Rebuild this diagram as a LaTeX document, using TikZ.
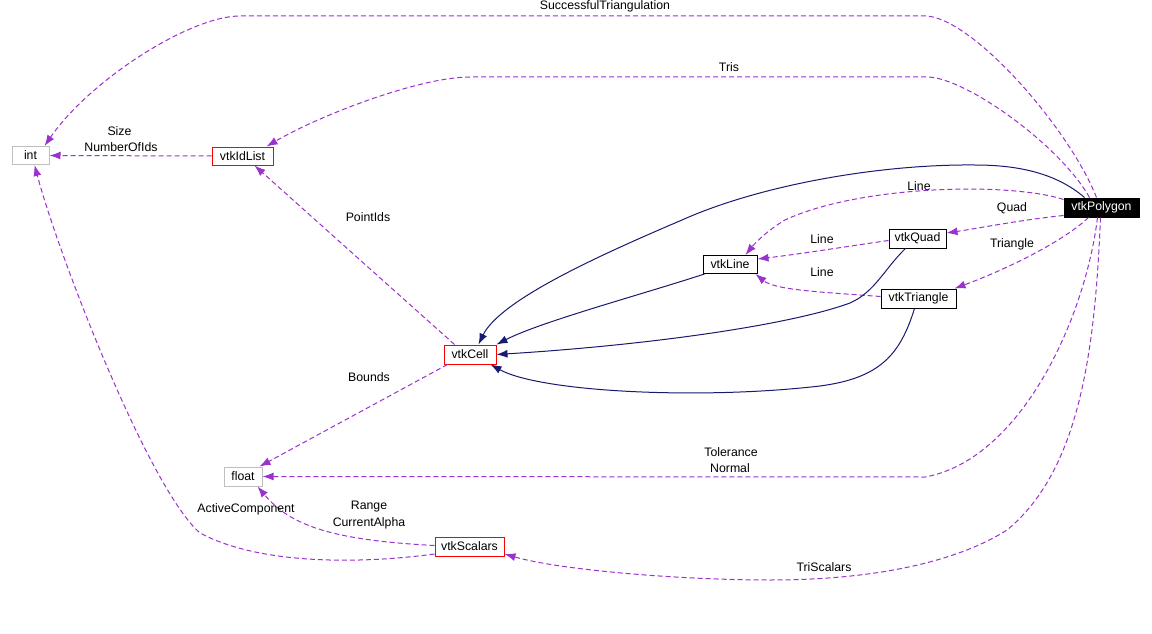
\documentclass[tikz,border=0pt]{standalone}
\usepackage{fontspec}
\setmainfont{Liberation Sans}
\usetikzlibrary{arrows.meta}
\definecolor{usecol}{HTML}{9A32CD}
\definecolor{inhcol}{HTML}{191970}
\definecolor{boxgray}{HTML}{BFBFBF}
\tikzset{
  txt/.style={font=\fontsize{12.3}{14}\selectfont},
  cls/.style={txt, draw, line width=1pt, inner sep=0pt, minimum height=19pt, anchor=center},
  extcls/.style={cls, draw=boxgray},
  doccls/.style={cls, draw=red},
  plaincls/.style={cls, draw=black},
  maincls/.style={cls, draw=black, fill=black, text=white},
  use/.style={draw=usecol, line width=1pt, dash pattern=on 5pt off 3pt, -{Latex[length=11pt,width=8pt]}},
  inh/.style={draw=inhcol, line width=1pt, -{Latex[length=11pt,width=8pt]}},
  lbl/.style={txt, inner sep=0pt, anchor=center}
}
\begin{document}
\begin{tikzpicture}[x=1pt,y=-1pt]
\useasboundingbox[fill=white] (0,0) rectangle (1152,634);
% nodes
\node[extcls, minimum width=37pt, minimum height=18pt] (int) at (30.5,155.5) {int};
\node[doccls, minimum width=61pt, minimum height=18pt] (idl) at (242.5,156) {vtkIdList};
\node[maincls, minimum width=75pt] (poly) at (1101.5,207.5) {vtkPolygon};
\node[plaincls, minimum width=57pt] (vq) at (917.5,238.5) {vtkQuad};
\node[plaincls, minimum width=54pt, minimum height=18pt] (vl) at (730,264.5) {vtkLine};
\node[plaincls, minimum width=75pt] (vt) at (918.5,298.5) {vtkTriangle};
\node[doccls, minimum width=52pt] (vc) at (470,354.5) {vtkCell};
\node[extcls, minimum width=38pt] (fl) at (243,476.5) {float};
\node[doccls, minimum width=69pt] (vs) at (469.5,546.5) {vtkScalars};

% SuccessfulTriangulation
\draw[use] ([xshift=33pt]poly.north west) .. controls (1070,130) and (975,20) .. (927,16)
  -- (240,16) .. controls (190,16) and (90,80) .. ([xshift=33pt]int.north west);
\node[lbl] (l1) at (605,6) {SuccessfulTriangulation};
% Tris
\draw[use] ([xshift=26pt]poly.north west) .. controls (1060,145) and (965,77) .. (927,77)
  -- (470,77) .. controls (420,77) and (320,115) .. ([xshift=55pt]idl.north west);
\node[lbl] (l2) at (729,67) {Tris};
% vtkIdList -> int
\draw[use] (idl.west) -- (int.east);
\node[lbl] (l3a) at (119.5,131) {Size};
\node[lbl] (l3b) at (121,147) {NumberOfIds};
% PointIds
\draw[use] ([xshift=11pt]vc.north west) -- ([xshift=43pt]idl.south west);
\node[lbl] (l4) at (368,217) {PointIds};
% inheritance vtkPolygon -> vtkCell
\draw[inh] ([xshift=21pt]poly.north west) .. controls (1055,172) and (1015,165) .. (975,165)
  .. controls (880,164) and (760,185) .. (682,220)
  .. controls (600,255) and (500,300) .. ([xshift=35pt]vc.north west);
% Line (poly -> vtkLine)
\draw[use] ([yshift=-2pt]poly.north west) .. controls (1010,182) and (860,185) .. (785,220)
  .. controls (768,230) and (755,243) .. ([xshift=43pt]vl.north west);
\node[lbl] (l5) at (919,186) {Line};
% Quad
\draw[use] ([yshift=2pt]poly.south west) .. controls (1020,220) and (980,228) .. ([yshift=5.5pt]vq.east);
\node[lbl] (l6) at (1012,208) {Quad};
% Triangle
\draw[use] ([xshift=25pt]poly.south west) .. controls (1065,240) and (1010,268) .. ([xshift=-2pt]vt.north east);
\node[lbl] (l7) at (1012,244) {Triangle};
% vtkQuad -> vtkLine
\draw[use] ([yshift=-2pt]vq.west) .. controls (850,246) and (800,254) .. ([yshift=5.5pt]vl.east);
\node[lbl] (l8) at (822,239) {Line};
% vtkTriangle -> vtkLine
\draw[use] ([yshift=2pt]vt.west) .. controls (820,292) and (775,290) .. ([xshift=-2pt]vl.south east);
\node[lbl] (l9) at (822,272) {Line};
% inheritance vtkLine -> vtkCell
\draw[inh] ([xshift=2pt]vl.south west) .. controls (640,295) and (540,322) .. (vc.north east);
% inheritance vtkQuad -> vtkCell
\draw[inh] ([xshift=17pt]vq.south west) .. controls (885,268) and (875,292) .. (850,303)
  .. controls (790,325) and (650,345) .. (vc.east);
% inheritance vtkTriangle -> vtkCell
\draw[inh] ([xshift=34pt]vt.south west) .. controls (900,355) and (880,378) .. (820,386)
  .. controls (700,400) and (540,392) .. ([xshift=-6pt]vc.south east);
% Bounds
\draw[use] ([xshift=4pt]vc.south west) -- ([xshift=-3pt]fl.north east);
\node[lbl] (l10) at (369,377) {Bounds};
% Tolerance / Normal
\draw[use] ([xshift=34pt]poly.south west) .. controls (1085,320) and (1020,460) .. (925,477) -- (fl.east);
\node[lbl] (l11a) at (731,452) {Tolerance};
\node[lbl] (l11b) at (730,468) {Normal};
% Range / CurrentAlpha
\draw[use] ([yshift=1pt]vs.west) .. controls (330,540) and (290,525) .. ([xshift=-5pt]fl.south east);
\node[lbl] (l12a) at (369,507) {Range};
\node[lbl] (l12b) at (369,523) {CurrentAlpha};
% ActiveComponent
\draw[use] ([yshift=-7.5pt]vs.west) .. controls (360,564) and (260,565) .. (200,533)
  .. controls (150,490) and (60,260) .. ([xshift=23pt]int.south west);
\node[lbl] (l13) at (246,509) {ActiveComponent};
% TriScalars
\draw[use] ([xshift=37pt]poly.south west) .. controls (1095,350) and (1080,470) .. (1007,530)
  .. controls (960,560) and (880,580) .. (770,580)
  .. controls (680,580) and (560,570) .. ([yshift=-7.5pt]vs.east);
\node[lbl] (l14) at (824,567) {TriScalars};
\end{tikzpicture}
\end{document}
